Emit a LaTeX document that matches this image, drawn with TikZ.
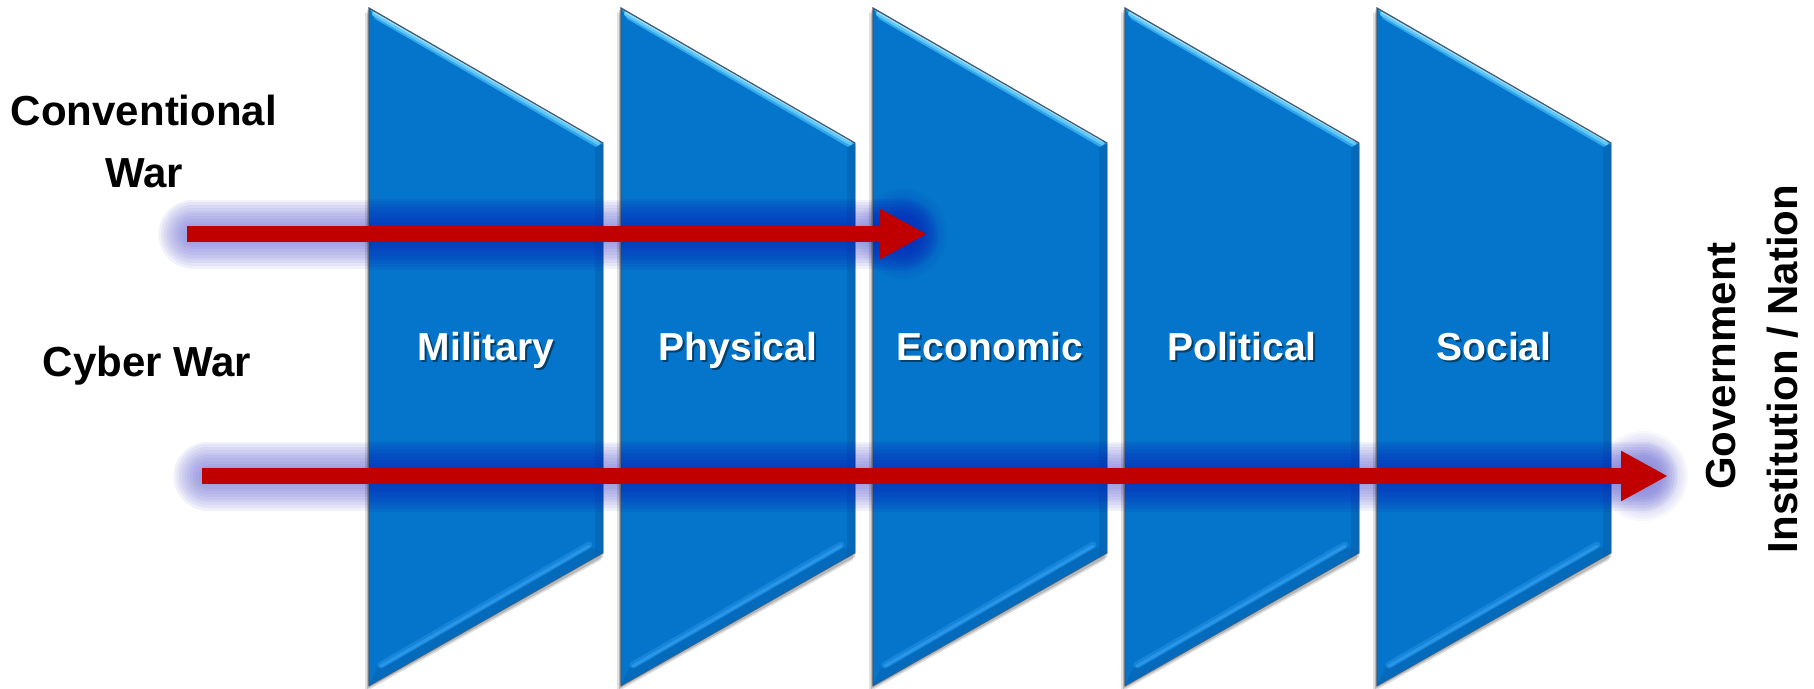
\documentclass[tikz,border=0pt]{standalone}
\usepackage{fontspec}
\setmainfont{Liberation Sans}
\usetikzlibrary{arrows.meta,calc}
\definecolor{panelblue}{RGB}{4,117,202}
\definecolor{paneldark}{RGB}{4,98,175}
\definecolor{glowpurple}{RGB}{120,120,218}
\definecolor{glowblue}{RGB}{8,40,188}
\definecolor{arrowred}{RGB}{192,0,0}
\definecolor{hilite}{RGB}{95,200,248}
\definecolor{midlite}{RGB}{50,165,235}
\definecolor{lowlite}{RGB}{40,150,232}
\definecolor{edgegray}{RGB}{70,88,108}
\begin{document}
\begin{tikzpicture}[x=1pt,y=-1pt,
  lbl/.style={font=\fontsize{42}{50}\selectfont\bfseries, text=black, inner sep=0pt},
  plabel/.style={font=\fontsize{39}{46}\selectfont\bfseries, text=white, inner sep=0pt},
  pshadow/.style={font=\fontsize{39}{46}\selectfont\bfseries, text=black, opacity=0.45, inner sep=0pt},
  redarrow/.style={draw=arrowred, line width=16pt, -{Triangle[length=47pt,width=47pt]}},
  glowp/.style={glowpurple, opacity=0.1, line cap=round},
  glowb/.style={glowblue, opacity=0.1, line cap=round},
]
\useasboundingbox (0,0) rectangle (1814,688);
\fill[white] (0,0) rectangle (1814,688);

% arrow end points
\coordinate (cvs) at (187,234);
\coordinate (cve) at (927,234);
\coordinate (cvh) at (902,234);
\coordinate (cys) at (202,476);
\coordinate (cye) at (1668,476);
\coordinate (cyh) at (1643,476);

% purple glow behind everything
\foreach \k in {1,...,10}{
  \draw[glowp, line width=14+5.5*\k] ($(cvs)+(6,0)$) -- (cvh);
  \draw[glowp, line width=14+5.5*\k] ($(cys)+(6,0)$) -- (cyh);
  \fill[glowp, opacity=0.06] (cvh) circle (18+2.7*\k);
  \fill[glowp, opacity=0.06] (cyh) circle (18+2.7*\k);
}

% panels
\foreach \px/\nm/\txt in {369/p1/Military, 621/p2/Physical, 873/p3/Economic, 1125/p4/Political, 1377/p5/Social}{
  % soft shadow
  \fill[black, opacity=0.12] (\px-4,12) -- (\px+232,148) -- (\px+232,560) -- (\px-4,692) -- cycle;
  \fill[black, opacity=0.18] (\px-2,10) -- (\px+234,146) -- (\px+234,557) -- (\px-2,689) -- cycle;
  % body
  \fill[panelblue] (\px,8) -- (\px+234,143) -- (\px+234,553) -- (\px,686) -- cycle;
  % right edge darker band
  \fill[paneldark, opacity=0.6] (\px+226,138) -- (\px+234,143) -- (\px+234,553) -- (\px+226,558) -- cycle;
  % bottom bevel
  \fill[paneldark, opacity=0.5] (\px+8,668) -- (\px+222,547) -- (\px+234,553) -- (\px,686) -- cycle;
  \draw[lowlite, opacity=0.5, line width=7, line cap=round] (\px+12,665) -- (\px+220,545);
  \draw[lowlite, line width=3, line cap=round] (\px+12,666) -- (\px+220,546);
  % top bevel highlight
  \fill[midlite] (\px+1,9) -- (\px+234,143) -- (\px+227,147) -- (\px+6,19) -- cycle;
  \draw[hilite, line width=4, line cap=round] (\px+5,14) -- (\px+229,143);
  \draw[white, opacity=0.4, line width=1.5] (\px+4,12) -- (\px+229,141);
  % outline
  \draw[edgegray, line width=1.2] (\px,686) -- (\px,8) -- (\px+234,143);
  \draw[edgegray, opacity=0.6, line width=1] (\px+234,143) -- (\px+234,553) -- (\px,686);
}

% dark-blue glow over the panels
\begin{scope}
  \clip (369,8) -- (603,143) -- (603,553) -- (369,686) -- cycle
        (621,8) -- (855,143) -- (855,553) -- (621,686) -- cycle
        (873,8) -- (1107,143) -- (1107,553) -- (873,686) -- cycle
        (1125,8) -- (1359,143) -- (1359,553) -- (1125,686) -- cycle
        (1377,8) -- (1611,143) -- (1611,553) -- (1377,686) -- cycle;
  \foreach \k in {1,...,10}{
    \draw[glowb, line width=16+5.5*\k] (cvs) -- (cvh);
    \draw[glowb, line width=16+5.5*\k] (cys) -- (cyh);
    \fill[glowb, opacity=0.05] (cvh) circle (18+2.7*\k);
  }
\end{scope}

% panel labels
\foreach \px/\nm/\txt in {369/p1/Military, 621/p2/Physical, 873/p3/Economic, 1125/p4/Political, 1377/p5/Social}{
  \node[pshadow, anchor=base] at (\px+119,362) {\txt};
  \node[plabel, anchor=base] (\nm) at (\px+117,360) {\txt};
}

% left labels
\node[lbl, anchor=base] (conv) at (144,125) {Conventional};
\node[lbl, anchor=base] (war) at (144,187) {War};
\node[lbl, anchor=base] (cyber) at (147,376) {Cyber War};

% right rotated labels
\node[lbl, anchor=base, rotate=90] (gov) at (1735,366) {Government};
\node[lbl, anchor=base, rotate=90] (inst) at (1797,369) {Institution / Nation};

% arrows
\draw[redarrow] (cvs) -- (cve);
\draw[redarrow] (cys) -- (cye);
\end{tikzpicture}
\end{document}
